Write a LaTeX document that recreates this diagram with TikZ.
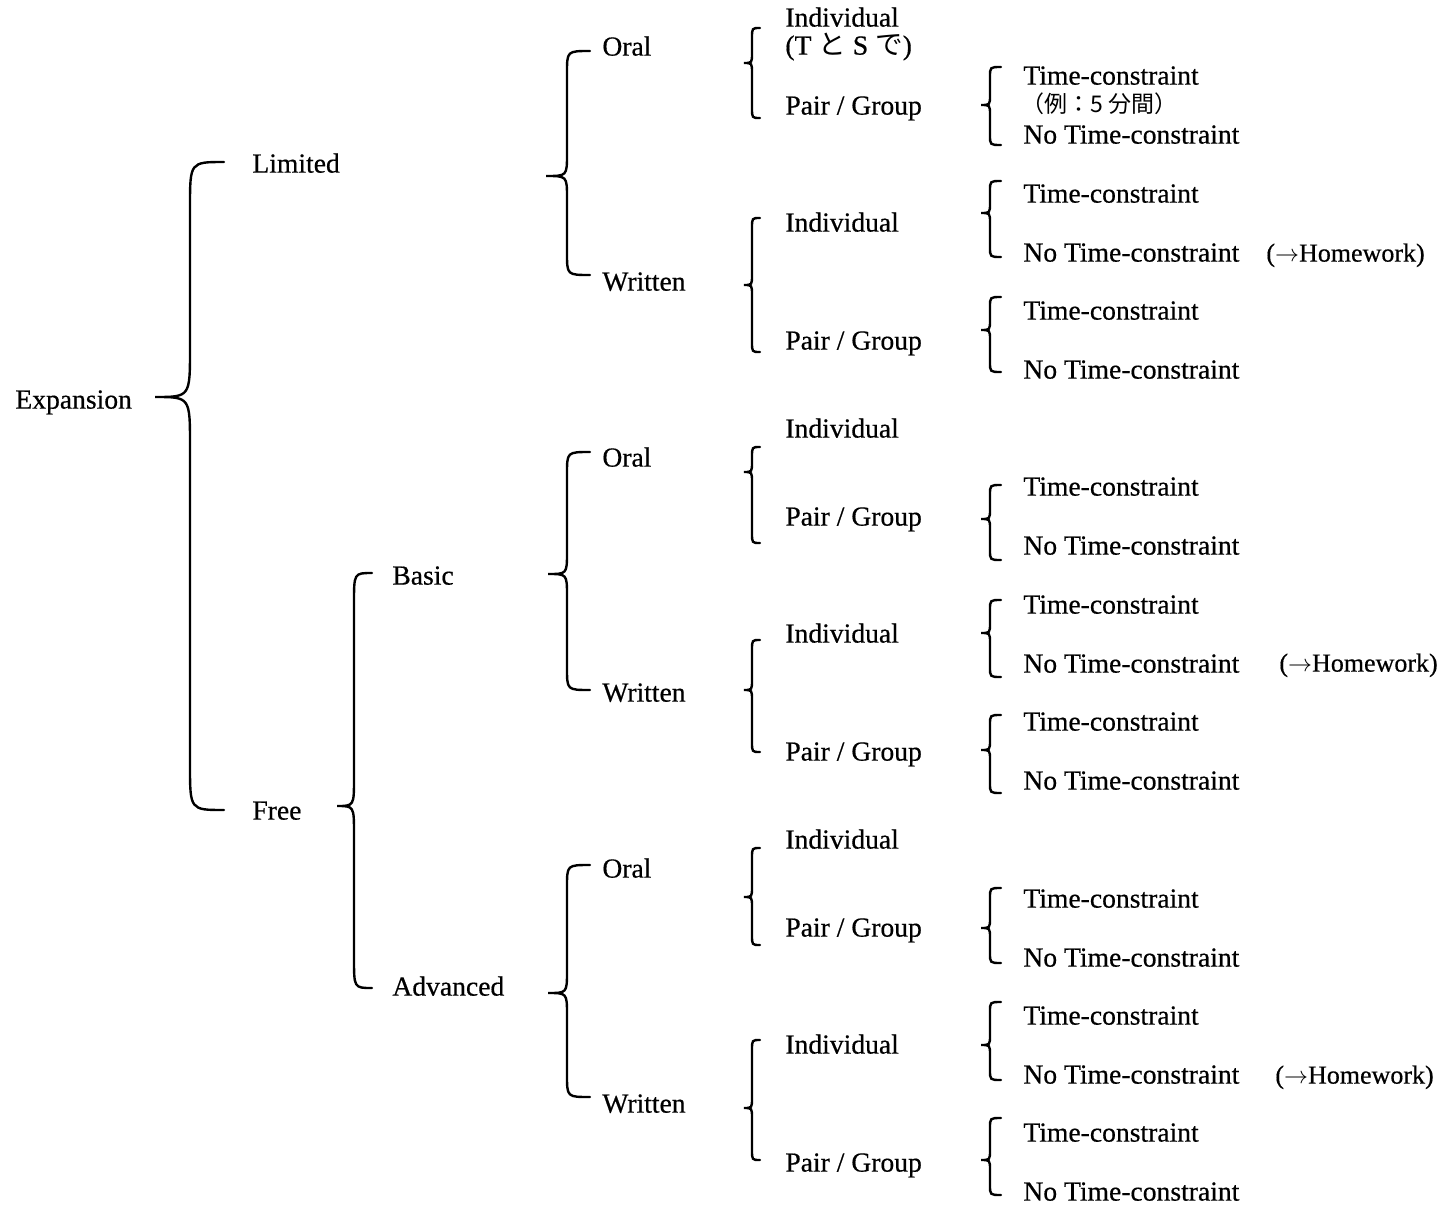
\documentclass[tikz,border=0pt]{standalone}
\usepackage{fontspec}
\setmainfont{Liberation Serif}[FakeBold=0.5]
\newfontfamily\jpfont{Noto Sans CJK JP}
\usetikzlibrary{positioning}

% curly brace: tip x, stem x, arm x, top y, tip y, bottom y, arm bend, tip bend
\newcommand{\curlyb}[8]{%
  \draw[brc] (#3,#4) .. controls (#2,#4) .. (#2,{#4+#7})
    -- (#2,{#5-#8}) .. controls (#2,#5) .. (#1,#5)
    .. controls (#2,#5) .. (#2,{#5+#8})
    -- (#2,{#6-#7}) .. controls (#2,#6) .. (#3,#6);}

\begin{document}
\begin{tikzpicture}[x=0.5pt, y=-0.5pt,
        lbl/.style = {anchor=west, inner sep=0pt, text height=0.66em, text depth=0pt, yshift=-1.5pt,
                      font=\fontsize{13.8}{16}\selectfont},
        hw/.style  = {lbl, font=\fontsize{13}{16}\selectfont},
        jp/.style  = {lbl, font=\fontsize{11.5}{14}\selectfont\jpfont},
        brc/.style = {line width=1.2pt, line cap=round}
    ]
    \useasboundingbox (0,0) rectangle (1441,1210);

    \node[lbl] (exp)   at (15,399)  {Expansion};
    \node[lbl] (lim)   at (252,163) {Limited};
    \node[lbl] (free)  at (252,810) {Free};
    \node[lbl] (basic) at (392,575) {Basic};
    \node[lbl] (adv)   at (392,986) {Advanced};

    \node[lbl] (lo) at (602,46)   {Oral};
    \node[lbl] (lw) at (602,281)  {Written};
    \node[lbl] (bo) at (602,457)  {Oral};
    \node[lbl] (bw) at (602,692)  {Written};
    \node[lbl] (ao) at (602,868)  {Oral};
    \node[lbl] (aw) at (602,1103) {Written};

    \node[lbl] (loi) at (785,17) {Individual};
    \node[lbl] (lois) at (785,45) {(T {\jpfont と} S {\jpfont で})};
    \foreach \n/\yi/\yp in {lw/222/340, bo/428/516, bw/633/751, ao/839/927, aw/1044/1162}{
        \node[lbl] (\n i) at (785,\yi) {Individual};
        \node[lbl] (\n p) at (785,\yp) {Pair / Group};
    }
    \node[lbl] (lop) at (785,105) {Pair / Group};

    \foreach \k/\y in {1/75, 2/193, 3/310, 4/486, 5/604, 6/721, 7/898, 8/1015, 9/1132}{
        \node[lbl] (tc\k)  at (1023,\y)      {Time-constraint};
        \node[lbl] (ntc\k) at (1023,{\y+59}) {No Time-constraint};
    }
    \node[jp] (ex) at (1021,103) {（例：5 分間）};

    \node[hw] (hw1) at (1266,252)  {($\rightarrow$Homework)};
    \node[hw] (hw2) at (1279,662)  {($\rightarrow$Homework)};
    \node[hw] (hw3) at (1275,1074) {($\rightarrow$Homework)};

    % first levels
    \curlyb{155}{190}{224}{162}{397}{810}{45}{48}
    \curlyb{546}{567}{590}{51}{176}{275}{22}{22}
    \curlyb{337}{354}{372}{573}{806}{988}{30}{28}
    \curlyb{548}{567}{590}{452}{574}{690}{22}{22}
    \curlyb{548}{567}{590}{865}{993}{1097}{22}{22}

    % Individual / Pair
    \foreach \t/\m/\b in {28/63/118, 218/285/352, 447/472/543, 640/690/752, 848/897/945, 1040/1108/1160}
        \curlyb{744}{752}{760}{\t}{\m}{\b}{10}{10};

    % time constraint
    \foreach \t/\m/\b in {67/105/145, 181/213/257, 297/330/372, 485/519/560, 600/633/677,
                          715/750/793, 888/928/963, 1002/1045/1080, 1118/1160/1195}
        \curlyb{981}{990}{1001}{\t}{\m}{\b}{10}{10};
\end{tikzpicture}
\end{document}
